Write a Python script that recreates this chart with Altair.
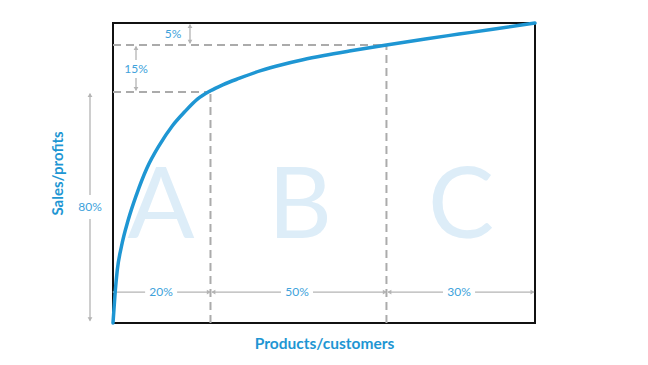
import altair as alt
import pandas as pd

# Pareto / ABC curve (x: share of products/customers, y: share of sales/profits), drawing units 0-100
curve_x = [0, 0.5, 1.0, 2.0, 3.6, 5.6, 8.0, 11.0, 14.0, 17.0, 20.0, 23.1, 26.0, 30.0, 35.0, 40.0,
           45.0, 50.0, 56.0, 64.8, 74.0, 82.0, 90.0, 100]
curve_y = [0, 10.0, 17.5, 25.5, 34.3, 42.9, 51.5, 59.3, 65.6, 70.4, 74.6, 77.4, 79.4, 81.6, 84.1, 86.1,
           87.75, 89.15, 90.65, 92.7, 94.7, 96.3, 97.9, 100]

# class boundaries on the curve
bound_x = [23.1, 64.8]
bound_y = [77.0, 92.7]

classes = ["A", "B", "C"]
class_x = [11.4, 44.3, 82.5]

seg_labels = ["20%", "50%", "30%"]
seg_start = [0.0, 23.5, 65.2]
seg_end = [23.0, 64.7, 99.7]
seg_label_x = [11.4, 43.6, 82.0]

share_labels = ["80%", "15%", "5%"]

BLUE = "#1e96d3"
LBLUE = "#3ea2db"
GRAY = "#b4b4b4"
FONT = "Lato"

W, H = 422, 300
PX = 100 / W  # drawing units per pixel, horizontal
PY = 100 / H  # drawing units per pixel, vertical

xs = alt.Scale(domain=[0, 100], nice=False, zero=False)
ys = alt.Scale(domain=[0, 100], nice=False, zero=False)

curve_df = pd.DataFrame({"x": curve_x, "y": curve_y})

# dashed guide lines
dash_rows = [
    {"x": 0, "x2": bound_x[0], "y": bound_y[0], "y2": bound_y[0]},
    {"x": 0, "x2": bound_x[1], "y": bound_y[1], "y2": bound_y[1]},
    {"x": bound_x[0], "x2": bound_x[0], "y": 0, "y2": bound_y[0]},
    {"x": bound_x[1], "x2": bound_x[1], "y": 0, "y2": bound_y[1]},
]
dash_df = pd.DataFrame(dash_rows)

# arrows (segments with gap around label) and heads
seg_rows, head_rows, lab_rows = [], [], []
arrow_y = 10.3
for lab, s, e, lx in zip(seg_labels, seg_start, seg_end, seg_label_x):
    gap = 16 * PX
    seg_rows.append({"x": s, "x2": lx - gap, "y": arrow_y, "y2": arrow_y})
    seg_rows.append({"x": lx + gap, "x2": e, "y": arrow_y, "y2": arrow_y})
    head_rows.append({"x": s + 1.2 * PX, "y": arrow_y, "shape": "triangle-left"})
    head_rows.append({"x": e - 1.2 * PX, "y": arrow_y, "shape": "triangle-right"})
    lab_rows.append({"x": lx, "y": arrow_y, "t": lab})

# vertical arrows: 80% outside left, 15% inside, 5% inside
v_x = [-23 * PX, 23 * PX, 77 * PX]
v_lo = [0.8, bound_y[0] + 0.6, bound_y[1] + 0.6]
v_hi = [bound_y[0] - 0.6, bound_y[1] - 0.6, 99.4]
v_lab_y = [38.7, 84.7, 96.3]
v_gap = [12 * PY, 9 * PY, None]
v_lab_x = [-23 * PX, 23 * PX, 60 * PX]
for lab, x, lo, hi, ly, g, lx in zip(share_labels, v_x, v_lo, v_hi, v_lab_y, v_gap, v_lab_x):
    if g is None:
        seg_rows.append({"x": x, "x2": x, "y": lo, "y2": hi})
    else:
        seg_rows.append({"x": x, "x2": x, "y": lo, "y2": ly - g})
        seg_rows.append({"x": x, "x2": x, "y": ly + g, "y2": hi})
    head_rows.append({"x": x, "y": lo + 1.2 * PY, "shape": "triangle-down"})
    head_rows.append({"x": x, "y": hi - 1.2 * PY, "shape": "triangle-up"})
    lab_rows.append({"x": lx, "y": ly, "t": lab})

seg_df = pd.DataFrame(seg_rows)
head_df = pd.DataFrame(head_rows)
lab_df = pd.DataFrame(lab_rows)
cls_df = pd.DataFrame({"x": class_x, "y": [28.3] * 3, "t": classes})

xaxis = alt.Axis(labels=False, ticks=False, domain=False, grid=False,
                 title="Products/customers", titleFont=FONT, titleFontSize=15.5,
                 titleFontWeight="bold", titleColor=BLUE, titlePadding=13)
yaxis = alt.Axis(labels=False, ticks=False, domain=False, grid=False,
                 title="Sales/profits", titleFont=FONT, titleFontSize=15,
                 titleFontWeight="bold", titleColor=BLUE, titlePadding=48)

letters = alt.Chart(cls_df).mark_text(
    font=FONT, fontSize=99, fontWeight="normal", color="#ddedf8", baseline="alphabetic", align="center"
).encode(x=alt.X("x:Q", scale=xs, axis=xaxis), y=alt.Y("y:Q", scale=ys, axis=yaxis), text="t:N")

dashes = alt.Chart(dash_df).mark_rule(
    color="#ababab", strokeWidth=2, strokeDash=[8, 5]
).encode(x=alt.X("x:Q", scale=xs), x2="x2", y=alt.Y("y:Q", scale=ys), y2="y2")

segs = alt.Chart(seg_df).mark_rule(color=GRAY, strokeWidth=1.3, clip=False).encode(
    x=alt.X("x:Q", scale=xs), x2="x2", y=alt.Y("y:Q", scale=ys), y2="y2")

heads = alt.Chart(head_df).mark_point(filled=True, color=GRAY, size=22, opacity=1, clip=False).encode(
    x=alt.X("x:Q", scale=xs), y=alt.Y("y:Q", scale=ys),
    shape=alt.Shape("shape:N", scale=None, legend=None))

labels = alt.Chart(lab_df).mark_text(
    font=FONT, fontSize=12, color=LBLUE, baseline="middle", align="center", clip=False
).encode(x=alt.X("x:Q", scale=xs), y=alt.Y("y:Q", scale=ys), text="t:N")

curve = alt.Chart(curve_df).mark_line(
    color=BLUE, strokeWidth=3.5, interpolate="monotone", strokeCap="round"
).encode(x=alt.X("x:Q", scale=xs), y=alt.Y("y:Q", scale=ys))

chart = alt.layer(letters, dashes, segs, heads, labels, curve).properties(
    width=W, height=H,
    autosize=alt.AutoSizeParams(type="none"),
    padding={"left": 113, "top": 23, "right": 113, "bottom": 42},
    background="white",
).configure_view(stroke="#111111", strokeWidth=2)

chart.save("out.html", embed_options={"renderer": "svg", "actions": False})
